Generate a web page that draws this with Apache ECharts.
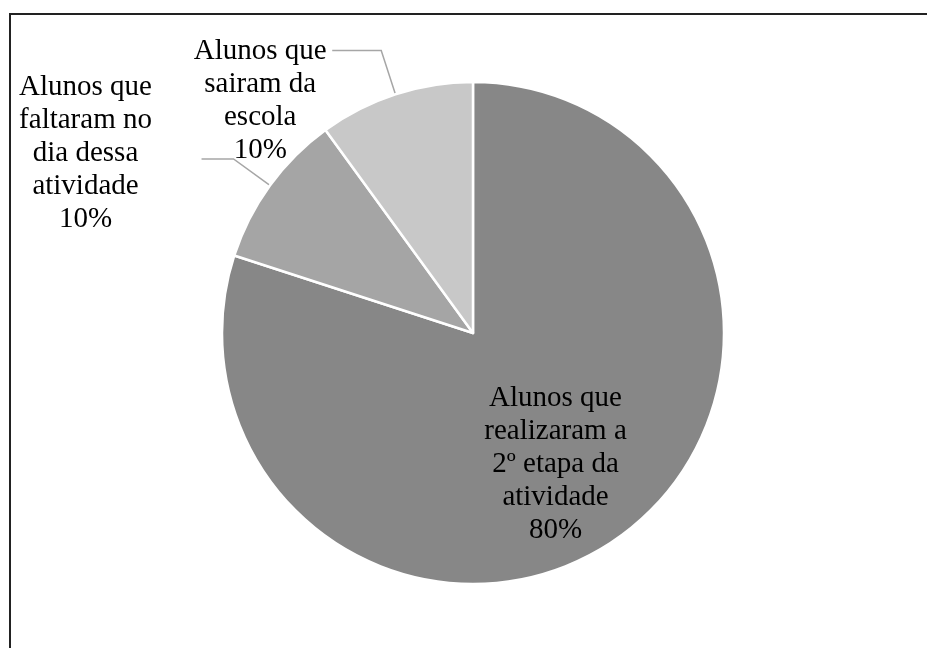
<!DOCTYPE html>
<html>
<head>
<meta charset="utf-8">
<script src="https://cdn.jsdelivr.net/npm/echarts@6/dist/echarts.min.js"></script>
<style>html,body{margin:0;padding:0;background:#fff}#c{width:927px;height:648px}</style>
</head>
<body>
<div id="c"></div>
<script>
const categories = [
  "Alunos que realizaram a 2º etapa da atividade",
  "Alunos que faltaram no dia dessa atividade",
  "Alunos que sairam da escola"
];
const labelLines = [
  ["Alunos que", "realizaram a", "2º etapa da", "atividade"],
  ["Alunos que", "faltaram no", "dia dessa", "atividade"],
  ["Alunos que", "sairam da", "escola"]
];
const values = [80, 10, 10];
const percentLabels = ["80%", "10%", "10%"];
const colors = ["#878787", "#a5a5a5", "#c8c8c8"];

const chart = echarts.init(document.getElementById('c'), null, {renderer: 'canvas'});
const FONT = '"Liberation Serif", "Times New Roman", serif';

function fmt(i) {
  return labelLines[i].concat([percentLabels[i]]).map(s => '{t|' + s + '}').join('\n');
}

const itemLabel = [
  {position: 'inside', padding: [54, 0, 0, 14]},
  {position: 'outside', padding: [0, 44, 12, 0]},
  {position: 'outside', padding: [100, 0, 0, 0]}
];
const itemLine = [
  {show: false},
  {show: true, length: 45, length2: 32},
  {show: true, length: 46, length2: 49}
];

const data = categories.map((name, i) => ({
  name: name,
  value: values[i],
  itemStyle: {color: colors[i]},
  label: Object.assign({formatter: () => fmt(i)}, itemLabel[i]),
  labelLine: itemLine[i]
}));

chart.setOption({
  backgroundColor: '#fff',
  animation: false,
  graphic: [{
    type: 'rect',
    shape: {x: 10, y: 14, width: 940, height: 660},
    style: {fill: 'none', stroke: '#222', lineWidth: 2},
    silent: true
  }],
  series: [{
    type: 'pie',
    center: [473, 333],
    radius: [0, 251],
    startAngle: 90,
    clockwise: true,
    avoidLabelOverlap: false,
    labelLayout: {hideOverlap: false, moveOverlap: false},
    itemStyle: {borderColor: '#fff', borderWidth: 2.5},
    emphasis: {disabled: true},
    label: {
      color: '#000',
      fontFamily: FONT,
      fontSize: 29,
      lineHeight: 33,
      rich: {
        t: {width: 134, align: 'center', fontFamily: FONT, fontSize: 29, lineHeight: 33, color: '#000'}
      }
    },
    labelLine: {
      smooth: false,
      lineStyle: {color: '#a6a6a6', width: 1.5}
    },
    data: data
  }]
});
</script>
</body>
</html>
